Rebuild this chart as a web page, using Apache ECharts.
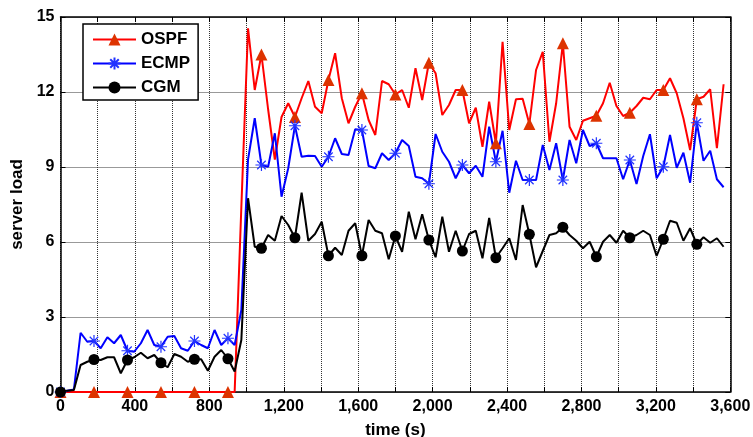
<!DOCTYPE html>
<html>
<head>
<meta charset="utf-8">
<title>server load</title>
<script src="https://cdn.jsdelivr.net/npm/echarts@6/dist/echarts.min.js"></script>
<style>
  html, body { margin: 0; padding: 0; background: #fff; }
  #myChart { width: 753px; height: 437px; }
</style>
</head>
<body>
<div id="myChart"></div>
<script>
// sample times (s)
var times = [
  0, 36, 72, 108, 144, 180, 216, 252, 288, 324,
  360, 396, 432, 468, 504, 540, 576, 612, 648, 684,
  720, 756, 792, 828, 864, 900, 936, 972, 1008, 1044,
  1080, 1116, 1152, 1188, 1224, 1260, 1296, 1332, 1368, 1404,
  1440, 1476, 1512, 1548, 1584, 1620, 1656, 1692, 1728, 1764,
  1800, 1836, 1872, 1908, 1944, 1980, 2016, 2052, 2088, 2124,
  2160, 2196, 2232, 2268, 2304, 2340, 2376, 2412, 2448, 2484,
  2520, 2556, 2592, 2628, 2664, 2700, 2736, 2772, 2808, 2844,
  2880, 2916, 2952, 2988, 3024, 3060, 3096, 3132, 3168, 3204,
  3240, 3276, 3312, 3348, 3384, 3420, 3456, 3492, 3528, 3564
];
var ospf = [
  0, 0, 0, 0, 0, 0, 0, 0, 0, 0,
  0, 0, 0, 0, 0, 0, 0, 0, 0, 0,
  0, 0, 0, 0, 0, 0, 0, 7.4, 14.55, 12.08,
  13.5, 11.3, 9.3, 11.0, 11.55, 11.0, 11.75, 12.44, 11.41, 11.15,
  12.48, 13.55, 11.75, 10.75, 11.41, 11.95, 10.88, 10.28, 12.44, 12.31,
  11.9, 12.08, 11.37, 12.95, 11.68, 13.17, 12.75, 11.08, 11.48, 12.08,
  12.08, 10.75, 11.37, 9.81, 11.61, 9.95, 14.01, 10.48, 11.71, 11.73,
  10.72, 12.88, 13.61, 10.01, 11.55, 13.95, 10.61, 10.08, 10.85, 10.95,
  11.05, 11.55, 12.37, 11.44, 11.04, 11.17, 11.44, 11.77, 11.71, 12.08,
  12.08, 12.55, 11.95, 10.95, 9.68, 11.71, 11.81, 12.11, 9.75, 12.31
];
var ecmp = [
  0, 0.05, 0.1, 2.37, 2.01, 2.04, 1.75, 2.19, 1.95, 2.28,
  1.65, 1.61, 1.95, 2.48, 1.88, 1.81, 2.21, 2.24, 1.75, 1.65,
  2.04, 1.88, 1.75, 2.48, 1.88, 2.15, 1.88, 3.28, 9.3, 10.95,
  9.08, 9.01, 10.35, 7.81, 8.95, 10.65, 9.41, 9.45, 9.44, 9.01,
  9.41, 10.15, 9.52, 9.48, 10.51, 10.48, 9.04, 8.95, 9.55, 9.28,
  9.55, 10.08, 9.84, 8.61, 8.55, 8.33, 10.32, 9.61, 9.21, 8.55,
  9.08, 8.75, 9.05, 8.61, 10.61, 9.21, 10.45, 7.97, 9.25, 8.48,
  8.48, 8.48, 9.88, 8.88, 9.95, 8.48, 10.08, 9.15, 10.48, 9.84,
  9.95, 9.35, 9.35, 9.35, 8.51, 9.28, 8.32, 9.44, 10.31, 8.55,
  9.01, 10.28, 8.97, 9.57, 8.37, 10.77, 9.25, 9.65, 8.51, 8.19
];
var cgm = [
  0, 0.05, 0.08, 1.08, 1.21, 1.3, 1.28, 1.39, 1.39, 0.75,
  1.28, 1.39, 1.57, 1.35, 1.48, 1.17, 0.99, 1.52, 1.41, 1.21,
  1.31, 1.31, 0.85, 1.41, 1.68, 1.33, 0.82, 2.08, 7.75, 5.81,
  5.75, 6.28, 6.05, 7.04, 6.68, 6.17, 7.97, 6.05, 6.32, 6.81,
  5.45, 5.77, 5.48, 6.45, 6.75, 5.45, 6.88, 6.45, 6.35, 5.31,
  6.24, 5.61, 7.21, 6.11, 7.11, 6.08, 5.39, 7.01, 5.61, 6.45,
  5.64, 6.32, 6.45, 5.35, 6.96, 5.37, 5.75, 6.15, 5.28, 7.48,
  6.31, 4.99, 5.64, 6.28, 6.35, 6.59, 6.28, 6.05, 5.75, 6.01,
  5.41, 6.01, 6.28, 5.97, 6.45, 6.17, 6.28, 6.45, 6.28, 5.44,
  6.11, 6.85, 6.77, 6.05, 6.55, 5.91, 6.19, 5.97, 6.15, 5.81
];
var seriesNames = ["OSPF", "ECMP", "CGM"];

var font = "'Liberation Sans', Arial, Helvetica, sans-serif";
var markEvery = 5;
// MATLAB style '*' marker
var asterisk = "path://M0,5L10,5M5,0L5,10M1.46,1.46L8.54,8.54M1.46,8.54L8.54,1.46";

function toData(values, symbol) {
  return values.map(function (v, i) {
    return {
      value: [times[i], v],
      symbol: i % markEvery === 0 ? symbol : "none"
    };
  });
}

function makeLine(name, values, lineColor, symbol, symbolSize, markColor, border) {
  return {
    name: name,
    type: "line",
    data: toData(values, symbol),
    symbol: symbol,
    symbolSize: symbolSize,
    showAllSymbol: true,
    clip: false,
    animation: false,
    lineStyle: { color: lineColor, width: 2 },
    itemStyle: {
      color: markColor,
      borderColor: markColor,
      borderWidth: border
    }
  };
}

var edgeAxis = {
  axisLine: { show: true, onZero: false, lineStyle: { color: "#000", width: 1.5 } },
  axisTick: { show: true, inside: true, length: 5, lineStyle: { color: "#000", width: 1 } },
  axisLabel: { show: false },
  splitLine: { show: false }
};

var myChart = echarts.init(document.getElementById("myChart"));
myChart.setOption({
  backgroundColor: "#fff",
  animation: false,
  // keep the plot box where it is, labels may sit outside
  grid: { left: 60.5, right: 22.7, top: 17, bottom: 45, outerBoundsMode: "none" },
  legend: {
    data: seriesNames,
    orient: "vertical",
    left: 83,
    top: 24,
    padding: [7, 8, 4, 9],
    itemGap: 7,
    itemWidth: 43,
    itemHeight: 15,
    backgroundColor: "#fff",
    borderColor: "#000",
    borderWidth: 1.5,
    borderRadius: 0,
    textStyle: { color: "#000", fontSize: 17, fontWeight: "bold", fontFamily: font }
  },
  xAxis: [
    {
      type: "value",
      min: 0,
      max: 3600,
      interval: 200,
      position: "bottom",
      name: "time (s)",
      nameLocation: "middle",
      nameGap: 30,
      nameTextStyle: { color: "#000", fontSize: 17, fontWeight: "bold", fontFamily: font },
      axisLine: { show: true, onZero: false, lineStyle: { color: "#000", width: 1.5 } },
      axisTick: { show: true, inside: true, length: 5, lineStyle: { color: "#000", width: 1 } },
      axisLabel: {
        color: "#000",
        fontSize: 16,
        fontWeight: "bold",
        fontFamily: font,
        margin: 7,
        formatter: function (v) {
          return v % 400 === 0 ? v.toLocaleString("en-US") : "";
        }
      },
      splitLine: { show: true, lineStyle: { color: "#333", type: "dotted", width: 1 } }
    },
    Object.assign({ type: "value", min: 0, max: 3600, interval: 200, position: "top" }, edgeAxis)
  ],
  yAxis: [
    {
      type: "value",
      min: 0,
      max: 15,
      interval: 3,
      position: "left",
      name: "server load",
      nameLocation: "middle",
      nameGap: 31,
      nameTextStyle: { color: "#000", fontSize: 17, fontWeight: "bold", fontFamily: font },
      axisLine: { show: true, onZero: false, lineStyle: { color: "#000", width: 1.5 } },
      axisTick: { show: true, inside: true, length: 5, lineStyle: { color: "#000", width: 1 } },
      axisLabel: { color: "#000", fontSize: 16, fontWeight: "bold", fontFamily: font, margin: 6 },
      splitLine: { show: true, lineStyle: { color: "#333", type: "dotted", width: 1 } }
    },
    Object.assign({ type: "value", min: 0, max: 15, interval: 3, position: "right" }, edgeAxis)
  ],
  series: [
    makeLine("OSPF", ospf, "#ff0000", "triangle", 12, "#dd3300", 0),
    makeLine("ECMP", ecmp, "#0000ff", asterisk, 12, "#2233ff", 1.2),
    makeLine("CGM", cgm, "#000000", "circle", 11, "#000000", 0)
  ]
});

window.onresize = function () {
  myChart.resize();
};
</script>
</body>
</html>
